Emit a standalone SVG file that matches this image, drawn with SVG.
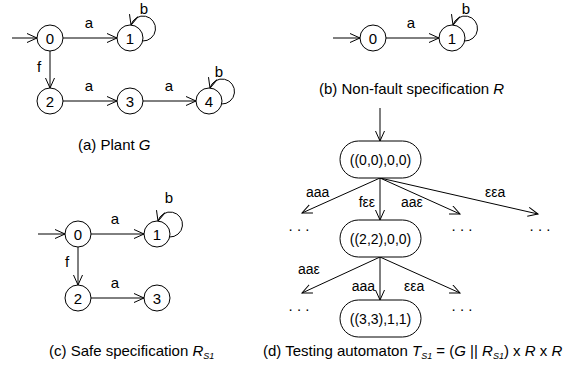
<svg xmlns="http://www.w3.org/2000/svg" width="578" height="381" viewBox="0 0 578 381">
<style>
text{font-family:"Liberation Sans",Arial,sans-serif;fill:#000}
.st{fill:#fff;stroke:#000;stroke-width:1}
.n{font-size:15px;text-anchor:middle}
.l{font-size:15px;text-anchor:middle}
.dl{font-size:14px}
.cap{font-size:15px}
.e{fill:none;stroke:#000;stroke-width:1;marker-end:url(#ah)}
.i{font-style:italic}
.sub{font-size:9px;font-style:italic}
</style>
<defs>
<marker id="ah" markerWidth="12" markerHeight="12" refX="10" refY="5" orient="auto" markerUnits="userSpaceOnUse">
<path d="M0,0.5 L10,5 L0,9.5" fill="none" stroke="#000" stroke-width="1"/>
</marker>
</defs>
<g id="connectors">
<line class="e" x1="12" y1="38" x2="37" y2="38"/>
<line class="e" x1="63" y1="38" x2="117" y2="38"/>
<path class="e" d="M142.5,41 A12.5,12.5 0 1 0 131,25"/>
<line class="e" x1="50" y1="51" x2="50" y2="88"/>
<line class="e" x1="63" y1="101" x2="117" y2="101"/>
<line class="e" x1="143" y1="101" x2="196" y2="101"/>
<path class="e" d="M221.5,104 A12.5,12.5 0 1 0 210,88"/>
<line class="e" x1="333" y1="38" x2="360" y2="38"/>
<line class="e" x1="386" y1="38" x2="439" y2="38"/>
<path class="e" d="M464.5,41 A12.5,12.5 0 1 0 453,25"/>
<line class="e" x1="38" y1="234" x2="65" y2="234"/>
<line class="e" x1="91" y1="234" x2="144" y2="234"/>
<path class="e" d="M169.5,237 A12.5,12.5 0 1 0 158,221"/>
<line class="e" x1="78" y1="247" x2="78" y2="285"/>
<line class="e" x1="91" y1="298" x2="144" y2="298"/>
<line class="e" x1="380" y1="108" x2="380" y2="141"/>
<line class="e" x1="380" y1="178" x2="302" y2="213"/>
<line class="e" x1="380" y1="178" x2="380" y2="220"/>
<line class="e" x1="380" y1="178" x2="460" y2="214"/>
<line class="e" x1="380" y1="178" x2="538" y2="214"/>
<line class="e" x1="380" y1="257" x2="302" y2="293"/>
<line class="e" x1="380" y1="257" x2="380" y2="300"/>
<line class="e" x1="380" y1="257" x2="460" y2="293"/>
</g>
<g id="labels">
<text class="l" x="144" y="14">b</text>
<text class="l" x="89" y="28">a</text>
<text class="l" x="39" y="72">f</text>
<text class="l" x="89" y="91">a</text>
<text class="l" x="169" y="91">a</text>
<text class="l" x="219" y="77">b</text>
<text class="l" x="411" y="28">a</text>
<text class="l" x="466" y="14">b</text>
<text class="l" x="115" y="224">a</text>
<text class="l" x="169" y="203">b</text>
<text class="l" x="67" y="267">f</text>
<text class="l" x="115" y="288">a</text>
<text class="dl" x="306" y="197">aaa</text>
<text class="dl" x="375" y="207" text-anchor="end">fεε</text>
<text class="dl" x="401" y="207">aaε</text>
<text class="dl" x="485" y="197">εεa</text>
<text class="dl" x="298" y="274">aaε</text>
<text class="dl" x="375" y="291" text-anchor="end">aaa</text>
<text class="dl" x="404" y="291">εεa</text>
<text class="l" x="299" y="231">. . .</text>
<text class="l" x="462" y="231">. . .</text>
<text class="l" x="540" y="231">. . .</text>
<text class="l" x="299" y="311">. . .</text>
<text class="l" x="462" y="311">. . .</text>
</g>
<g id="a0"><circle class="st" cx="50" cy="38" r="13"/><text class="n" x="50" y="43.5">0</text></g>
<g id="a1"><circle class="st" cx="130" cy="38" r="13"/><text class="n" x="130" y="43.5">1</text></g>
<g id="a2"><circle class="st" cx="50" cy="101" r="13"/><text class="n" x="50" y="106.5">2</text></g>
<g id="a3"><circle class="st" cx="130" cy="101" r="13"/><text class="n" x="130" y="106.5">3</text></g>
<g id="a4"><circle class="st" cx="209" cy="101" r="13"/><text class="n" x="209" y="106.5">4</text></g>
<g id="b0"><circle class="st" cx="373" cy="38" r="13"/><text class="n" x="373" y="43.5">0</text></g>
<g id="b1"><circle class="st" cx="452" cy="38" r="13"/><text class="n" x="452" y="43.5">1</text></g>
<g id="c0"><circle class="st" cx="78" cy="234" r="13"/><text class="n" x="78" y="239.5">0</text></g>
<g id="c1"><circle class="st" cx="157" cy="234" r="13"/><text class="n" x="157" y="239.5">1</text></g>
<g id="c2"><circle class="st" cx="78" cy="298" r="13"/><text class="n" x="78" y="303.5">2</text></g>
<g id="c3"><circle class="st" cx="157" cy="298" r="13"/><text class="n" x="157" y="303.5">3</text></g>
<g id="d0"><rect class="st" x="340" y="141" width="81" height="37" rx="18.5"/><text class="n" style="font-size:14px" x="380.5" y="164.5">((0,0),0,0)</text></g>
<g id="d1"><rect class="st" x="340" y="220" width="81" height="37" rx="18.5"/><text class="n" style="font-size:14px" x="380.5" y="243.5">((2,2),0,0)</text></g>
<g id="d2"><rect class="st" x="340" y="300" width="81" height="37" rx="18.5"/><text class="n" style="font-size:14px" x="380.5" y="323.5">((3,3),1,1)</text></g>
<g id="captions">
<text class="cap" x="78" y="150">(a) Plant <tspan class="i">G</tspan></text>
<text class="cap" x="319" y="94">(b) Non-fault specification <tspan class="i">R</tspan></text>
<text class="cap" x="49" y="356">(c) Safe specification <tspan class="i">R</tspan><tspan class="sub" dy="3">S1</tspan></text>
<text class="cap" x="263" y="356">(d) Testing automaton <tspan class="i">T</tspan><tspan class="sub" dy="3">S1</tspan><tspan dy="-3"> = (</tspan><tspan class="i">G</tspan> || <tspan class="i">R</tspan><tspan class="sub" dy="3">S1</tspan><tspan dy="-3">) x </tspan><tspan class="i">R</tspan> x <tspan class="i">R</tspan></text>
</g>
</svg>
